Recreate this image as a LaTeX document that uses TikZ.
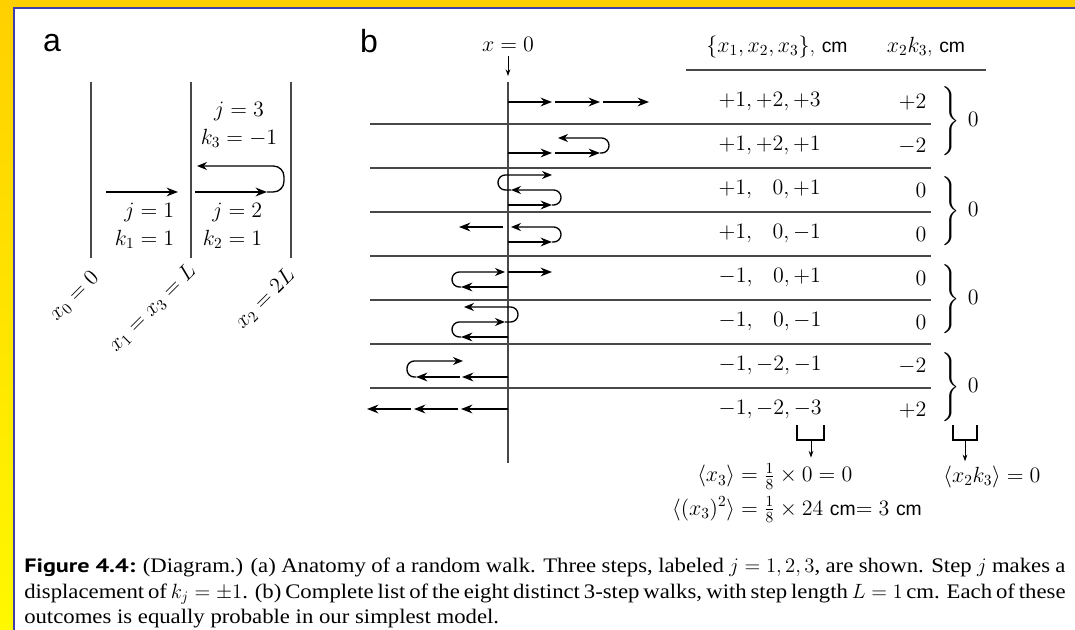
\RequirePackage{fix-cm}
\documentclass[tikz,border=0pt]{standalone}
\usepackage{amsmath}
\usepackage{fontspec}
\setsansfont{Liberation Sans}
\newfontfamily\capsans{PT Sans}[FakeStretch=1.25]
\newfontfamily\capserif{Liberation Serif}[FakeStretch=1.1]
\usetikzlibrary{arrows.meta}
\definecolor{framegold}{RGB}{255,208,0}
\definecolor{frameyellow}{RGB}{255,248,0}
\definecolor{frameblue}{RGB}{62,62,172}
\definecolor{rulegray}{RGB}{72,72,72}
\newcommand{\unitcm}{{\sffamily\fontsize{14.5}{17}\selectfont cm}}

\begin{document}
\begin{tikzpicture}[x=0.75pt,y=-0.75pt,font=\fontsize{16.5}{21}\selectfont,
  walkstep/.style={line width=1.7pt,-{Stealth[length=8.5pt,width=6.5pt]}},
  walkback/.style={line width=1pt,rounded corners=5.5pt,-{Stealth[length=7.5pt,width=6pt]}},
  gridrule/.style={rulegray,line width=0.9pt},
  pointer/.style={line width=0.7pt,-{Stealth[length=5pt,width=3.5pt]}},
  panellabel/.style={font=\sffamily\fontsize{24}{26}\selectfont},
  sitelabel/.style={rotate=45,anchor=east,inner sep=0pt}]
\useasboundingbox (0,0) rectangle (1075,630);
\fill[white] (0,0) rectangle (1075,630);
% frame
\fill[framegold] (0,0) rectangle (1075,8);
\shade[top color=framegold,bottom color=frameyellow] (0,0) rectangle (13,630);
\draw[frameblue,line width=1.9pt] (14,630) -- (14,8) -- (1075,8);

% panel a
\node[panellabel] (pa) at (52,43) {a};
\draw[gridrule] (91,82) -- (91,258);
\draw[gridrule] (191,82) -- (191,258);
\draw[gridrule] (291,82) -- (291,258);
\draw[walkstep] (106,192) -- (178,192);
\draw[walkstep] (195,192) -- (267,192);
\draw[walkback,rounded corners=8pt] (267,192) -- (284,192) -- (284,166) -- (197,166);
\node[align=right,anchor=east] (s1) at (179,226) {$j=1$\\$k_1=1$};
\node[align=right,anchor=east] (s2) at (267,226) {$j=2$\\$k_2=1$};
\node[align=center] (s3) at (239,125) {$j=3$\\$k_3=-1$};
\node[sitelabel] (site0) at (96,275) {$x_0=0$};
\node[sitelabel] (site1) at (193,268) {$x_1=x_3=L$};
\node[sitelabel] (site2) at (292,272) {$x_2=2L$};

% panel b
\node[panellabel] (pb) at (369,41) {b};
\node (xorigin) at (508,44) {$x=0$};
\coordinate (axtop) at (508,76);
\draw[pointer] (xorigin.south) -- (axtop);
\draw[gridrule] (370,124) -- (931,124);
\draw[gridrule] (370,168) -- (931,168);
\draw[gridrule] (370,212) -- (931,212);
\draw[gridrule] (370,256) -- (931,256);
\draw[gridrule] (370,300) -- (931,300);
\draw[gridrule] (370,344) -- (931,344);
\draw[gridrule] (370,388) -- (931,388);
\draw[gridrule] (686,70) -- (986,70);
\draw[rulegray,line width=1.1pt] (508,82) -- (508,463);

% the eight walks
\draw[walkstep] (508,102) -- (552,102);
\draw[walkstep] (555,102) -- (600,102);
\draw[walkstep] (603,102) -- (649,102);

\draw[walkstep] (508,153) -- (552,153);
\draw[walkstep] (555,153) -- (600,153);
\draw[walkback] (600,153) -- (609,153) -- (609,138) -- (558,138);

\draw[walkstep] (508,205) -- (552,205);
\draw[walkback] (552,205) -- (561,205) -- (561,190) -- (511,190);
\draw[walkback] (511,190) -- (498,190) -- (498,175) -- (552,175);

\draw[walkstep] (508,242) -- (552,242);
\draw[walkback] (552,242) -- (561,242) -- (561,227) -- (511,227);
\draw[walkstep] (503,227) -- (459,227);

\draw[walkstep] (508,287) -- (461,287);
\draw[walkback] (461,287) -- (452,287) -- (452,272) -- (505,272);
\draw[walkstep] (508,272) -- (552,272);

\draw[walkstep] (508,337) -- (461,337);
\draw[walkback] (461,337) -- (452,337) -- (452,322) -- (505,322);
\draw[walkback] (505,322) -- (518,322) -- (518,307) -- (464,307);

\draw[walkstep] (508,377) -- (462,377);
\draw[walkstep] (460,377) -- (416,377);
\draw[walkback] (416,377) -- (407,377) -- (407,361) -- (463,361);

\draw[walkstep] (508,409) -- (461,409);
\draw[walkstep] (458,409) -- (414,409);
\draw[walkstep] (411,409) -- (367,409);

% table
\node (hdrpos) at (777,47) {$\{x_1,x_2,x_3\}$,\ \unitcm};
\node (hdrprod) at (926,47) {$x_2k_3$,\ \unitcm};
\node[anchor=west] (pos1) at (714,102) {$+1,+2,+3$};
\node[anchor=west] (pos2) at (714,146) {$+1,+2,+1$};
\node[anchor=west] (pos3) at (714,190) {$+1,\phantom{+}0,+1$};
\node[anchor=west] (pos4) at (714,234) {$+1,\phantom{+}0,-1$};
\node[anchor=west] (pos5) at (714,278) {$-1,\phantom{+}0,+1$};
\node[anchor=west] (pos6) at (714,322) {$-1,\phantom{+}0,-1$};
\node[anchor=west] (pos7) at (714,366) {$-1,-2,-1$};
\node[anchor=west] (pos8) at (714,410) {$-1,-2,-3$};
\node[anchor=east] (prod1) at (931,102) {$+2$};
\node[anchor=east] (prod2) at (931,146) {$-2$};
\node[anchor=east] (prod3) at (931,190) {$0$};
\node[anchor=east] (prod4) at (931,234) {$0$};
\node[anchor=east] (prod5) at (931,278) {$0$};
\node[anchor=east] (prod6) at (931,322) {$0$};
\node[anchor=east] (prod7) at (931,366) {$-2$};
\node[anchor=east] (prod8) at (931,410) {$+2$};
\node[anchor=west,inner sep=0pt] (pair1) at (940,121) {$\left.\vcenter{\hbox{\rule{0pt}{52pt}}}\right\}\,0$};
\node[anchor=west,inner sep=0pt] (pair2) at (940,211) {$\left.\vcenter{\hbox{\rule{0pt}{52pt}}}\right\}\,0$};
\node[anchor=west,inner sep=0pt] (pair3) at (940,299) {$\left.\vcenter{\hbox{\rule{0pt}{52pt}}}\right\}\,0$};
\node[anchor=west,inner sep=0pt] (pair4) at (940,387) {$\left.\vcenter{\hbox{\rule{0pt}{52pt}}}\right\}\,0$};

% averages
\draw[line width=0.8pt] (797,425) -- (797,440) -- (824,440) -- (824,425);
\draw[line width=0.8pt] (953,425) -- (953,440) -- (977,440) -- (977,425);
\coordinate (cupx) at (811,440);
\coordinate (cupk) at (965,440);
\node (avgx) at (797,493) {$\begin{aligned}\langle x_3\rangle&=\tfrac18\times0=0\\[1pt]
  \langle(x_3)^2\rangle&=\tfrac18\times24\ \text{\unitcm}{=}\;3\ \text{\unitcm}\end{aligned}$};
\node (avgk) at (992,477) {$\langle x_2k_3\rangle=0$};
\draw[pointer] (cupx) -- (avgx.north -| cupx);
\draw[pointer] (cupk) -- (avgk.north -| cupk);

% caption
\node[anchor=north west,text width=781pt,align=justify,inner sep=0pt,
  font=\capserif\fontsize{15.5}{19}\selectfont] (caption) at (24,558)
  {{\capsans\bfseries\fontsize{14.5}{19}\selectfont Figure 4.4:} (Diagram.) (a) Anatomy of a random walk. Three steps, labeled $j=1,2,3$, are shown. Step $j$ makes a\linebreak
  displacement of $k_j=\pm1$. (b) Complete list of the eight distinct 3-step walks, with step length $L=1$\,cm. Each of these\linebreak
  outcomes is equally probable in our simplest model.};
\end{tikzpicture}
\end{document}
